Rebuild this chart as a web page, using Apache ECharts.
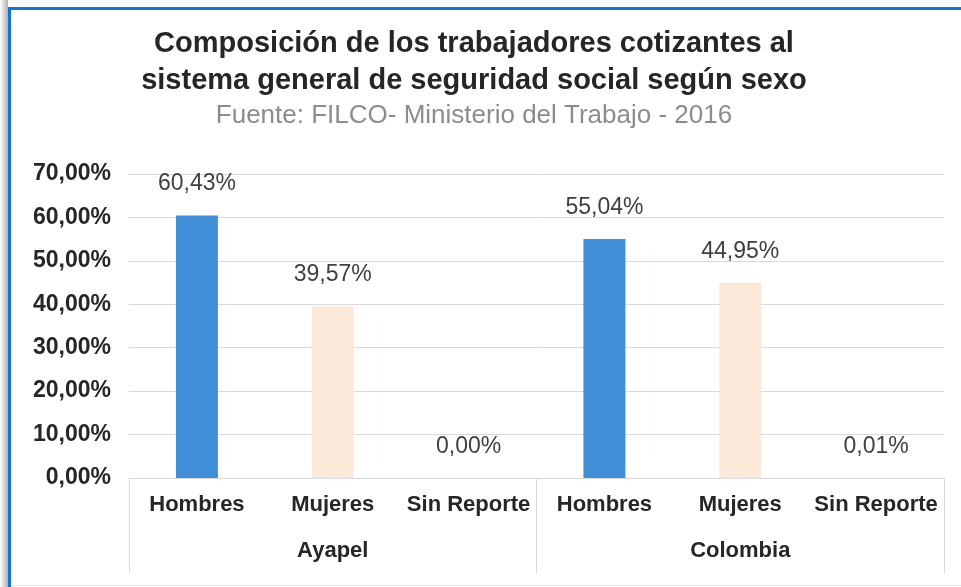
<!DOCTYPE html>
<html>
<head>
<meta charset="utf-8">
<script src="https://cdn.jsdelivr.net/npm/echarts@6/dist/echarts.min.js"></script>
<style>
  html, body { margin: 0; padding: 0; background: #fff; }
  #main { width: 961px; height: 587px; }
</style>
</head>
<body>
<div id="main"></div>
<script>
var categorias = ['Hombres', 'Mujeres', 'Sin Reporte', 'Hombres', 'Mujeres', 'Sin Reporte'];
var grupos = ['Ayapel', 'Colombia'];
var valores = [60.43, 39.57, 0.00, 55.04, 44.95, 0.01];
var colores = ['#418fd6', '#fde9d9', '#a5a5a5', '#418fd6', '#fde9d9', '#a5a5a5'];

function fmt(v, dec) {
    return v.toFixed(dec).replace('.', ',') + '%';
}

var chart = echarts.init(document.getElementById('main'));

var option = {
    backgroundColor: '#fff',
    animation: false,
    title: {
        text: 'Composición de los trabajadores cotizantes al\nsistema general de seguridad social según sexo',
        subtext: 'Fuente: FILCO- Ministerio del Trabajo - 2016',
        left: 469,
        textAlign: 'center',
        top: 20,
        itemGap: 4,
        textStyle: {
            fontFamily: 'Liberation Sans',
            fontSize: 29,
            fontWeight: 'bold',
            color: '#262626',
            lineHeight: 37
        },
        subtextStyle: {
            fontFamily: 'Liberation Sans',
            fontSize: 26,
            color: '#8c8c8c'
        }
    },
    grid: { left: 129, right: 17, top: 174, bottom: 109, containLabel: false },
    xAxis: [
        {
            type: 'category',
            data: categorias,
            axisLine: { lineStyle: { color: '#d9d9d9', width: 1 } },
            axisTick: { show: false },
            axisLabel: {
                interval: 0,
                margin: 16,
                fontFamily: 'Liberation Sans',
                fontSize: 22,
                fontWeight: 'bold',
                color: '#262626'
            }
        },
        {
            type: 'category',
            data: grupos,
            position: 'bottom',
            axisLine: { show: false },
            axisTick: { show: true, length: 95, lineStyle: { color: '#d9d9d9' } },
            axisLabel: {
                margin: 62,
                fontFamily: 'Liberation Sans',
                fontSize: 22,
                fontWeight: 'bold',
                color: '#262626'
            }
        }
    ],
    yAxis: {
        type: 'value',
        min: 0,
        max: 70,
        interval: 10,
        axisLine: { show: false },
        axisTick: { show: false },
        splitLine: { lineStyle: { color: '#d9d9d9' } },
        axisLabel: {
            margin: 18,
            fontFamily: 'Liberation Sans',
            fontSize: 23,
            fontWeight: 'bold',
            color: '#262626',
            formatter: function (v) { return fmt(v, 2); }
        }
    },
    series: [
        {
            type: 'bar',
            xAxisIndex: 0,
            barWidth: 42,
            data: valores.map(function (v, i) {
                return { value: v, itemStyle: { color: colores[i] } };
            }),
            label: {
                show: true,
                position: 'top',
                distance: 20,
                fontFamily: 'Liberation Sans',
                fontSize: 23,
                color: '#404040',
                formatter: function (p) { return fmt(p.value, 2); }
            }
        }
    ],
    graphic: [
        {
            type: 'rect',
            shape: { x: 0, y: 0, width: 8, height: 587 },
            style: {
                fill: new echarts.graphic.LinearGradient(0, 0, 1, 0, [
                    { offset: 0, color: '#ffffff' },
                    { offset: 1, color: '#b0b0b0' }
                ])
            },
            silent: true
        },
        {
            type: 'line',
            shape: { x1: 9.5, y1: 8.5, x2: 9.5, y2: 587 },
            style: { stroke: '#1a73c8', lineWidth: 3 },
            silent: true
        },
        {
            type: 'line',
            shape: { x1: 8, y1: 8.5, x2: 961, y2: 8.5 },
            style: { stroke: '#1a73c8', lineWidth: 3 },
            silent: true
        },
        {
            type: 'line',
            shape: { x1: 11, y1: 585.5, x2: 961, y2: 585.5 },
            style: { stroke: '#e6e6e6', lineWidth: 1 },
            silent: true
        }
    ]
};

chart.setOption(option);
</script>
</body>
</html>
